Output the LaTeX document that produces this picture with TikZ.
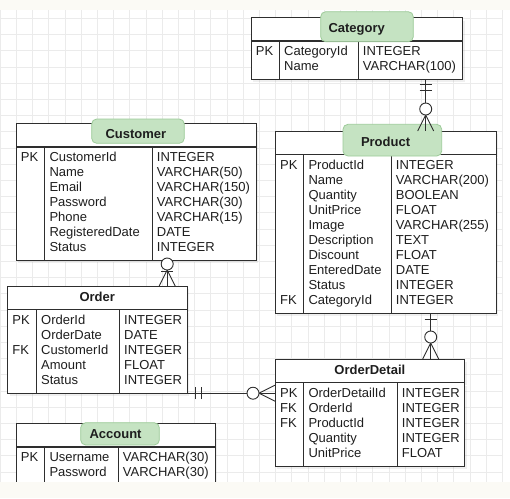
\documentclass[tikz,border=0pt]{standalone}
\usepackage{fontspec}
\setmainfont{Liberation Sans}
\usetikzlibrary{positioning,shadows,decorations.markings}

\definecolor{gridcol}{HTML}{EBEBEB}
\definecolor{hlfill}{HTML}{C5E3C2}
\definecolor{hldraw}{HTML}{9DCB99}
\definecolor{linecol}{HTML}{2E2E2E}
\definecolor{txtcol}{HTML}{1E1E1E}
\definecolor{stripcol}{HTML}{FBFAF5}

\tikzset{
  tblbox/.style={draw=linecol, fill=white, minimum height=23pt, inner sep=0pt, anchor=north west,
    drop shadow={opacity=0.12, shadow xshift=2pt, shadow yshift=-3pt}},
  tblcol/.style={draw=linecol, fill=white, align=left, text width=#1, inner xsep=5pt, inner ysep=4.2pt,
    font=\fontsize{13}{15}\selectfont, text=txtcol,
    execute at begin node=\noindent\strut, execute at end node=\strut,
    drop shadow={opacity=0.12, shadow xshift=2pt, shadow yshift=-3pt}},
  tbltitle/.style={font=\fontsize{13}{15}\selectfont\bfseries, text=txtcol, text height=9.5pt, text depth=2.5pt, inner sep=0pt},
  hilite/.style={draw=hldraw, fill=hlfill, rounded corners=5pt, line width=0.8pt},
  gridline/.style={draw=gridcol, line width=0.6pt, step=16.2pt},
  conn/.style={color=linecol, line width=0.9pt},
  mandone/.style={postaction={decorate, decoration={markings,
    mark=at position #1 with {\draw (0pt,-6pt) -- (0pt,6pt) (6pt,-6pt) -- (6pt,6pt);}}}},
  mandone/.default=5pt,
  zeromany/.style={postaction={decorate, decoration={markings,
    mark=at position 1 with {\draw (-16pt,0pt) -- (0pt,8pt) (-16pt,0pt) -- (0pt,-8pt);
      \draw[fill=white] (-22pt,0pt) circle (6pt);}}}}
}

\begin{document}
\begin{tikzpicture}[x=1pt, y=-1pt]
    \path[use as bounding box, fill=white] (0,0) rectangle (510,498);
    \draw[gridline, yshift=-2pt] (0,8) grid (503,480);

    % Category
    \node[tblbox, minimum width=211.6pt] (category) at (250.7,17.3) {};
    \node[tblcol=18.3pt, anchor=north west] (cat-k) at (category.south west) {PK\\~};
    \node[tblcol=68.7pt, right=-\pgflinewidth of cat-k] (cat-n) {CategoryId\\Name};
    \node[tblcol=94.6pt, right=-\pgflinewidth of cat-n] (cat-t) {INTEGER\\VARCHAR(100)};
    \draw[hilite] (320.7,11.7) rectangle (413.3,41.7);
    \node[tbltitle] (category-title) at (category.center) {Category};

    % Customer
    \node[tblbox, minimum width=240pt] (customer) at (15.7,123.3) {};
    \node[tblcol=18.6pt, anchor=north west] (cust-k) at (customer.south west) {PK\\~\\~\\~\\~\\~\\~};
    \node[tblcol=97.4pt, right=-\pgflinewidth of cust-k] (cust-n) {CustomerId\\Name\\Email\\Password\\Phone\\RegisteredDate\\Status};
    \node[tblcol=94pt, right=-\pgflinewidth of cust-n] (cust-t) {INTEGER\\VARCHAR(50)\\VARCHAR(150)\\VARCHAR(30)\\VARCHAR(15)\\DATE\\INTEGER};
    \draw[hilite] (91.7,119) rectangle (184.3,143.3);
    \node[tbltitle] (customer-title) at (customer.center) {Customer};

    % Product
    \node[tblbox, minimum width=220.7pt] (product) at (275,131) {};
    \node[tblcol=18.3pt, anchor=north west] (prod-k) at (product.south west) {PK\\~\\~\\~\\~\\~\\~\\~\\~\\FK};
    \node[tblcol=77.4pt, right=-\pgflinewidth of prod-k] (prod-n) {ProductId\\Name\\Quantity\\UnitPrice\\Image\\Description\\Discount\\EnteredDate\\Status\\CategoryId};
    \node[tblcol=95pt, right=-\pgflinewidth of prod-n] (prod-t) {INTEGER\\VARCHAR(200)\\BOOLEAN\\FLOAT\\VARCHAR(255)\\TEXT\\FLOAT\\DATE\\INTEGER\\INTEGER};
    \draw[hilite] (343,124.3) rectangle (441.7,156);
    \node[tbltitle] (product-title) at (product.center) {Product};

    % Order
    \node[tblbox, minimum width=179.4pt] (order) at (7.3,286) {};
    \node[tblcol=18.7pt, anchor=north west] (ord-k) at (order.south west) {PK\\~\\FK\\~\\~};
    \node[tblcol=73pt, right=-\pgflinewidth of ord-k] (ord-n) {OrderId\\OrderDate\\CustomerId\\Amount\\Status};
    \node[tblcol=57.7pt, right=-\pgflinewidth of ord-n] (ord-t) {INTEGER\\DATE\\INTEGER\\FLOAT\\INTEGER};
    \node[tbltitle] (order-title) at (order.center) {Order};

    % OrderDetail
    \node[tblbox, minimum width=189.3pt] (orderdetail) at (275,359) {};
    \node[tblcol=18.3pt, anchor=north west] (od-k) at (orderdetail.south west) {PK\\FK\\FK\\~\\~};
    \node[tblcol=83.4pt, right=-\pgflinewidth of od-k] (od-n) {OrderDetailId\\OrderId\\ProductId\\Quantity\\UnitPrice};
    \node[tblcol=57.6pt, right=-\pgflinewidth of od-n] (od-t) {INTEGER\\INTEGER\\INTEGER\\INTEGER\\FLOAT};
    \node[tbltitle] (orderdetail-title) at (orderdetail.center) {OrderDetail};

    % Account
    \node[tblbox, minimum width=199.3pt] (account) at (15.7,423.3) {};
    \node[tblcol=18.6pt, anchor=north west] (acc-k) at (account.south west) {PK\\~};
    \node[tblcol=63.4pt, right=-\pgflinewidth of acc-k] (acc-n) {Username\\Password};
    \node[tblcol=87.3pt, right=-\pgflinewidth of acc-n] (acc-t) {VARCHAR(30)\\VARCHAR(30)};
    \draw[hilite] (80.7,422.7) rectangle (159.3,445);
    \node[tbltitle] (account-title) at (account.center) {Account};

    % relations
    \coordinate (cat-p) at ([xshift=15.5pt]cat-t.south);
    \draw[conn, mandone=5pt, zeromany] (cat-p) -- (cat-p |- product.north);
    \coordinate (cust-o) at ([xshift=-36.7pt]cust-t.south);
    \draw[conn, mandone=5pt, zeromany] (cust-o) -- (cust-o |- order.north);
    \coordinate (prod-od) at ([xshift=-12.7pt]prod-t.south);
    \draw[conn, mandone=0pt, zeromany] (prod-od) -- (prod-od |- orderdetail.north);
    \draw[conn, mandone=8pt, zeromany] (ord-t.south east) -- (ord-t.south east -| od-k.west);

    \fill[stripcol] (0,0) rectangle (510,10);
    \fill[stripcol] (0,482) rectangle (510,498);
\end{tikzpicture}
\end{document}
